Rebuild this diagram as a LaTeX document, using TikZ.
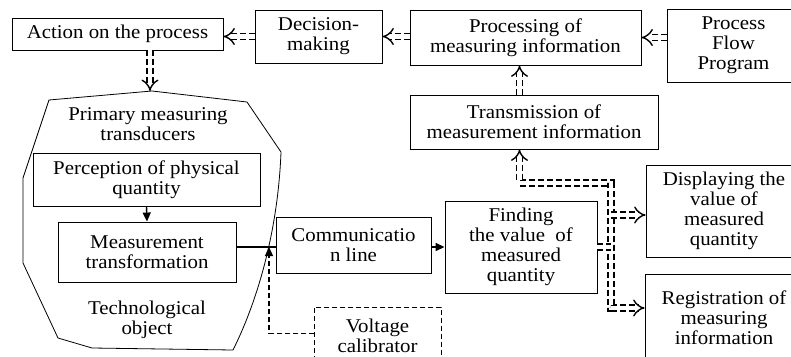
\documentclass[tikz,border=0pt]{standalone}
\usepackage{fontspec}
\setmainfont[FakeStretch=1.07]{Liberation Serif}
\usetikzlibrary{arrows.meta,calc}
\begin{document}
\begin{tikzpicture}[x=1pt,y=-1pt,
  every node/.style={font=\fontsize{19.5}{20}\selectfont},
  box/.style={draw, line width=0.9pt, inner sep=0pt, align=center},
  dbox/.style={box, dash pattern=on 5pt off 3pt},
  txt/.style={inner sep=0pt, align=center},
  sarrow/.style={line width=1.4pt, -{Triangle[length=9pt,width=8pt]}},
  dbl/.style={double, double distance=4.5pt, line width=1.4pt, dash pattern=on 6pt off 3pt, -{Implies[scale=1.1]}},
  dashline/.style={line width=1.3pt, dash pattern=on 5pt off 3pt}
]
\useasboundingbox (0,0) rectangle (791,356);

% technological object outline
\draw[line width=0.8pt] (49,100) -- (152,91) -- (247,102) -- (281,152)
  .. controls (278,230) and (258,300) .. (233,350) -- (92,348) -- (58,338)
  -- (23,263) -- (23,178) -- cycle;
\coordinate (apex) at (150,91);
\node[txt] (prim) at (148,124) {Primary measuring\\transducers};
\node[txt] (tech) at (147,320) {Technological\\object};

% boxes
\node[box, minimum width=211pt, minimum height=32pt] (act) at (117.5,34) {Action on the process};
\node[box, minimum width=127pt, minimum height=53pt] (dec) at (318.5,36.5) {Decision-\\making};
\node[box, minimum width=231pt, minimum height=55pt] (proc) at (525.5,37.5) {Processing of\\measuring information};
\node[box, minimum width=133pt, minimum height=73pt] (pfp) at (733.5,45.5) {Process\\Flow\\Program};
\node[box, minimum width=248pt, minimum height=54pt] (trans) at (534,122) {Transmission of\\measurement information};
\node[box, minimum width=227pt, minimum height=53pt] (perc) at (146.5,179.5) {Perception of physical\\quantity};
\node[box, minimum width=178pt, minimum height=60pt] (meas) at (147,252) {Measurement\\transformation};
\node[box, minimum width=155pt, minimum height=56pt] (comm) at (353.5,245) {Communicatio\\n line};
\node[box, minimum width=152pt, minimum height=92pt] (find) at (521,247) {Finding\\the value~ of\\measured\\quantity};
\node[box, minimum width=156pt, minimum height=92pt] (disp) at (724,211) {Displaying the\\value of\\measured\\quantity};
\node[box, minimum width=158pt, minimum height=88pt] (reg) at (724,318) {Registration of\\measuring\\information};
\node[dbox, minimum width=127pt, minimum height=57pt] (volt) at (377.5,335.5) {Voltage\\calibrator};

% solid connectors
\coordinate (j) at (269,247);
\draw[sarrow] (perc.south) -- (meas.north);
\draw[line width=1.6pt] (meas.east |- j) -- (comm.west |- j);
\draw[sarrow] (comm.east |- find.west) -- (find.west);
\draw[dashline, -{Triangle[length=9pt,width=8pt]}] ([yshift=2pt]volt.west) -| (j);

% double dashed connectors
\draw[dbl] (proc.west |- dec.east) -- (dec.east);
\draw[dbl] (dec.west) -- (dec.west -| act.east);
\draw[dbl] (pfp.west |- proc.east) -- (proc.east);
\draw[dbl] (act.south -| apex) -- (apex);

\coordinate (b1) at (519.5,183);
\coordinate (b2) at (611,183);
\coordinate (b3) at (611,308);
\coordinate (b4) at (611,215);
\draw[dbl] (trans.north -| b1) -- (proc.south -| b1);
\draw[dbl, {Implies[scale=1.1]}-{Implies[scale=1.1]}] (trans.south -| b1) -- (b1) -- (b2) -- (b3) -- (reg.west |- b3);
\draw[dbl] (b4) -- (b4 -| disp.west);
\draw[dbl, -] (find.east) -- (find.east -| b2);
\end{tikzpicture}
\end{document}
